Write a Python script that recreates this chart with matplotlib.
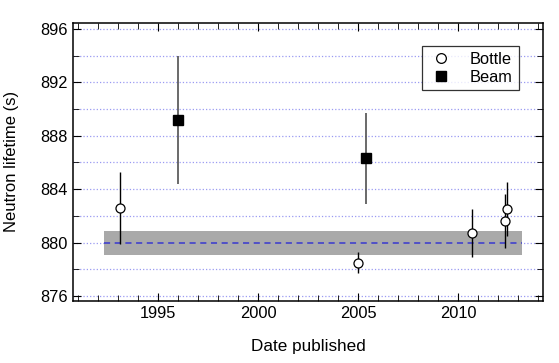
import matplotlib
matplotlib.use('Agg')
import matplotlib.pyplot as plt
from matplotlib.ticker import MultipleLocator
from matplotlib.lines import Line2D

plt.rcParams['font.family'] = ['Liberation Sans', 'DejaVu Sans']

# bottle measurements
bottle_year = [1993.1, 2005.0, 2010.7, 2012.35, 2012.45]
bottle_tau = [882.6, 878.5, 880.7, 881.6, 882.5]
bottle_err = [2.7, 0.8, 1.8, 2.0, 2.0]

# beam measurements
beam_year = [1996.0, 2005.4]
beam_tau = [889.2, 886.3]
beam_err = [4.8, 3.4]

# world average band
avg_tau = 880.0
avg_err = 0.9
band_years = [1992.3, 2013.2]

fig = plt.figure(figsize=(5.59, 3.63), dpi=100)
ax = fig.add_axes([0.130, 0.171, 0.842, 0.766])

ax.fill_between(band_years, avg_tau - avg_err, avg_tau + avg_err, color='#a9a9a9', lw=0, zorder=1)
ax.plot(band_years, [avg_tau, avg_tau], color='#3838d0', ls=(0, (4, 3)), lw=1.1, zorder=2)

for y in range(876, 897, 2):
    ax.axhline(y, color='#9a9af2', ls=':', lw=0.9, zorder=0)

ax.errorbar(bottle_year, bottle_tau, yerr=bottle_err, fmt='o', mfc='white', mec='black',
            ecolor='black', ms=6.5, mew=0.9, elinewidth=1.0, capsize=0, zorder=4)
ax.errorbar(beam_year, beam_tau, yerr=beam_err, fmt='s', mfc='black', mec='black',
            ecolor='#505050', ms=7, elinewidth=1.2, capsize=0, zorder=4)

ax.set_xlim(1990.72, 2014.25)
ax.set_ylim(875.63, 896.45)
ax.xaxis.set_major_locator(MultipleLocator(5))
ax.xaxis.set_minor_locator(MultipleLocator(1))
ax.yaxis.set_major_locator(MultipleLocator(4))
ax.yaxis.set_minor_locator(MultipleLocator(2))
ax.tick_params(which='both', direction='in', top=True, right=True, labelsize=11.8)
ax.tick_params(which='major', length=6)
ax.tick_params(which='minor', length=4)
for s in ax.spines.values():
    s.set_linewidth(1.1)

ax.set_xlabel('Date published', fontsize=12.3, labelpad=13)
ax.set_ylabel('Neutron lifetime (s)', fontsize=12, labelpad=15)

handles = [Line2D([], [], ls='none', marker='o', mfc='white', mec='black', ms=7, mew=0.9),
           Line2D([], [], ls='none', marker='s', mfc='black', mec='black', ms=7)]
leg = ax.legend(handles, ['Bottle', 'Beam'], loc='upper right', bbox_to_anchor=(0.965, 0.945),
                fontsize=11.8, frameon=True, fancybox=False, edgecolor='black',
                handletextpad=1.0, borderpad=0.35, labelspacing=0.15, handlelength=1.6)
leg.get_frame().set_linewidth(0.9)

fig.savefig('out.png', dpi=100)
